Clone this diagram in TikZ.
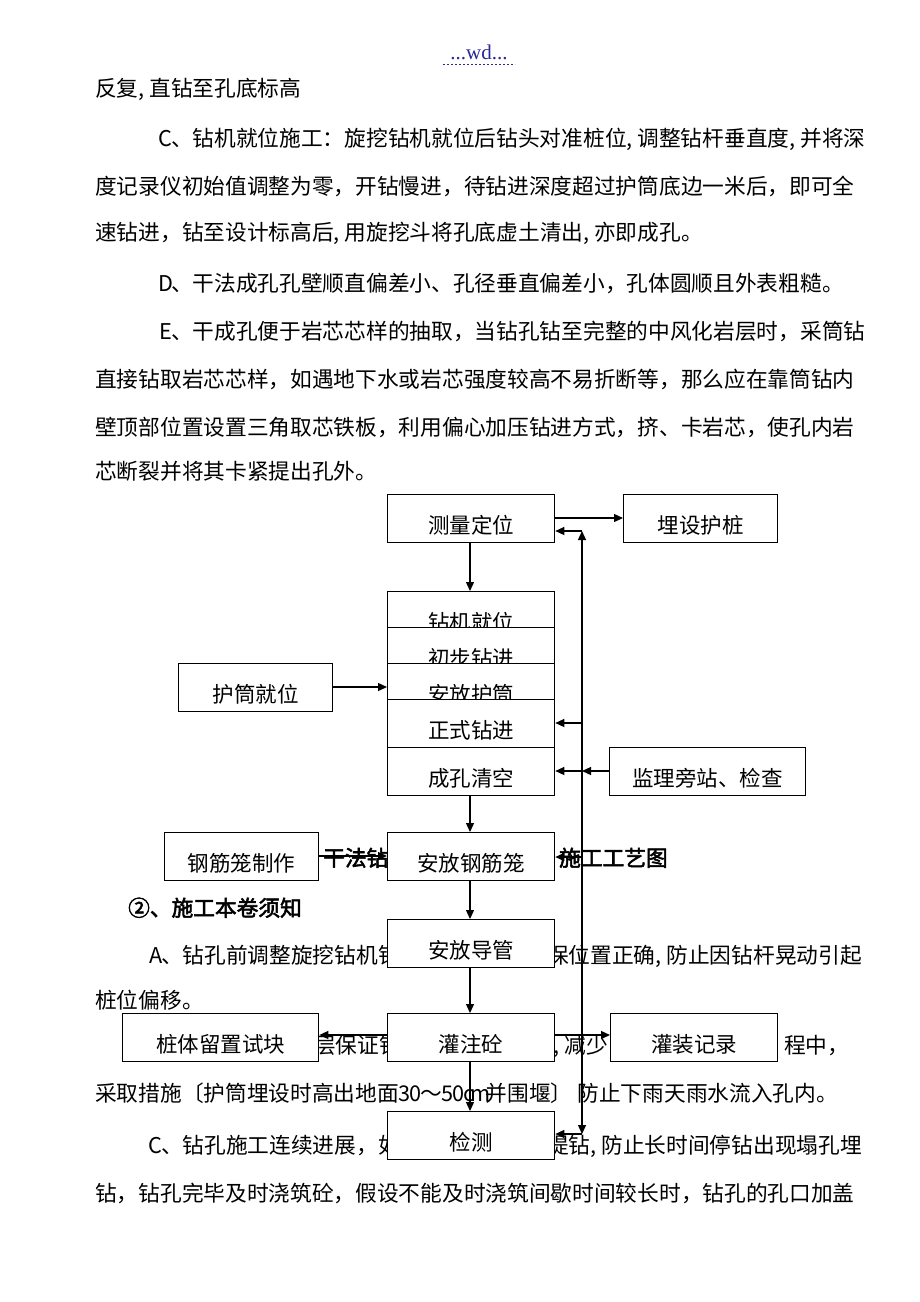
\documentclass[tikz,border=0pt]{standalone}
\usepackage{fontspec}
\setmainfont{Noto Sans CJK SC}
\newfontfamily\cjkbold[FakeBold=2.5]{Noto Sans CJK SC}
\newfontfamily\hdrfont{Liberation Serif}
\usetikzlibrary{arrows.meta}
\definecolor{hdr}{RGB}{40,40,150}
\newcommand\hc{\makebox[0.5em][l]{,}}
\newcommand\hl[1]{\makebox[0.5em][c]{#1}}
\newcommand\bodyfs{\fontsize{21.7}{26}\selectfont}
\tikzset{
  txt/.style={anchor=base west, inner sep=0pt, font=\bodyfs},
  txtr/.style={anchor=base east, inner sep=0pt, font=\bodyfs},
  btxt/.style={anchor=base west, inner sep=0pt, font=\bodyfs\cjkbold},
  box/.style={draw=black, fill=white, line width=1.3pt, anchor=north west,
    inner sep=0pt, minimum height=48pt, text height=30pt, text depth=1.3pt,
    font=\fontsize{21.5}{26}\selectfont},
  arr/.style={line width=1.3pt, -{Triangle[length=9pt,width=8pt]}},
  darr/.style={line width=1.3pt, {Triangle[length=9pt,width=8pt]}-{Triangle[length=9pt,width=8pt]}},
}
\begin{document}
\begin{tikzpicture}[x=1pt,y=-1pt]
\useasboundingbox[fill=white] (0,0) rectangle (920,1302);
% header
\node[anchor=base, inner sep=0pt, text=hdr, font=\fontsize{21}{24}\selectfont\hdrfont] (hd) at (479,59) {...wd...};
\draw[hdr, line width=0.9pt, dash pattern=on 2pt off 2pt] (443,64) -- (515,64);
% upper body text
\node[txt] (l1) at (95,96) {反复\hc 直钻至孔底标高};
\node[txt] (l2) at (160,146) {\hl{C}、钻机就位施工：旋挖钻机就位后钻头对准桩位\hc 调整钻杆垂直度\hc 并将深};
\node[txt] (l3) at (95,194) {度记录仪初始值调整为零，开钻慢进，待钻进深度超过护筒底边一米后，即可全};
\node[txt] (l4) at (95,240) {速钻进，钻至设计标高后\hc 用旋挖斗将孔底虚土清出\hc 亦即成孔。};
\node[txt] (l5) at (160,291) {\hl{D}、干法成孔孔壁顺直偏差小、孔径垂直偏差小，孔体圆顺且外表粗糙。};
\node[txt] (l6) at (160,339) {\hl{E}、干成孔便于岩芯芯样的抽取，当钻孔钻至完整的中风化岩层时，采筒钻};
\node[txt] (l7) at (95,387) {直接钻取岩芯芯样，如遇地下水或岩芯强度较高不易折断等，那么应在靠筒钻内};
\node[txt] (l8) at (95,435) {壁顶部位置设置三角取芯铁板，利用偏心加压钻进方式，挤、卡岩芯，使孔内岩};
\node[txt] (l9) at (95,479) {芯断裂并将其卡紧提出孔外。};
% lower body text
\node[btxt] (t1) at (323,866) {干法钻};
\node[btxt] (t2) at (559,866) {施工工艺图};
\node[btxt] (h2) at (128,916) {②、施工本卷须知};
\node[txt] (a1) at (150,963) {\hl{A}、钻孔前调整旋挖钻机钻};
\node[txtr] (a2) at (862,963) {保位置正确\hc 防止因钻杆晃动引起};
\node[txt] (p1) at (95,1008) {桩位偏移。};
\node[txt] (b1) at (313.8,1053) {层保证钻};
\node[txt] (b2) at (553.5,1053) {\hc 减少};
\node[txt] (b3) at (784,1053) {程中，};
\node[txt] (s1) at (95,1101) {采取措施〔护筒埋设时高出地面\hl{3}\hl{0}～\hl{5}\hl{0}\hl{c}\hl{m}并围堰〕\hspace{5pt}防止下雨天雨水流入孔内。};
\node[txt] (c1) at (150,1153) {\hl{C}、钻孔施工连续进展，如};
\node[txtr] (c2) at (862,1153) {提钻\hc 防止长时间停钻出现塌孔埋};
\node[txt] (e1) at (95,1201) {钻，钻孔完毕及时浇筑砼，假设不能及时浇筑间歇时间较长时，钻孔的孔口加盖};
% flowchart boxes
\node[box, minimum width=167pt] (cl) at (387,494) {测量定位};
\node[box, minimum width=154pt] (mh) at (623,494) {埋设护桩};
\node[box, minimum width=167pt] (zj) at (387,591) {钻机就位};
\node[box, minimum width=167pt] (cb) at (387,627) {初步钻进};
\node[box, minimum width=167pt] (af) at (387,663) {安放护筒};
\node[box, minimum width=167pt] (zs) at (387,699) {正式钻进};
\node[box, minimum width=167pt] (cq) at (387,747) {成孔清空};
\node[box, minimum width=154pt] (ht) at (178,663) {护筒就位};
\node[box, minimum width=196pt] (jl) at (609,747) {监理旁站、检查};
\node[box, minimum width=154pt] (gz) at (164,832) {钢筋笼制作};
\node[box, minimum width=167pt] (ag) at (387,832) {安放钢筋笼};
\node[box, minimum width=167pt] (ad) at (387,919) {安放导管};
\node[box, minimum width=196pt] (zt) at (122,1013) {桩体留置试块};
\node[box, minimum width=167pt] (gzt) at (387,1013) {灌注砼};
\node[box, minimum width=167pt] (gj) at (610,1013) {灌装记录};
\node[box, minimum width=167pt] (jc) at (387,1111) {检测};
% connectors
\coordinate (vt) at (582,531);
\coordinate (vb) at (582,1134);
\coordinate (vz) at (582,723);
\coordinate (vc) at (582,771);
\coordinate (vg) at (582,857);
\draw[arr] (cl.east |- 0,518) -- (mh.west |- 0,518);
\draw[arr] (cl.south -| 470,0) -- (zj.north -| 470,0);
\draw[arr] (ht.east |- 0,687) -- (af.west |- 0,687);
\draw[arr] (cq.south -| 470,0) -- (ag.north -| 470,0);
\draw[arr] (ag.south -| 470,0) -- (ad.north -| 470,0);
\draw[arr] (ad.south -| 470,0) -- (gzt.north -| 470,0);
\draw[arr] (gzt.south -| 470,0) -- (jc.north -| 470,0);
\draw[arr] (gz.east |- 0,856) -- (ag.west |- 0,856);
\draw[arr] (gzt.west |- 0,1035) -- (zt.east |- 0,1035);
\draw[arr] (gzt.east |- 0,1035) -- (gj.west |- 0,1035);
\draw[darr] (vt) -- (vb);
\draw[arr] (vt) -- (cl.east |- vt);
\draw[arr] (vb) -- (jc.east |- vb);
\draw[arr] (vz) -- (zs.east |- vz);
\draw[arr] (jl.west |- vc) -- (vc);
\draw[arr] (vc) -- (cq.east |- vc);
\draw[arr] (vg) -- (ag.east |- vg);
\end{tikzpicture}
\end{document}
